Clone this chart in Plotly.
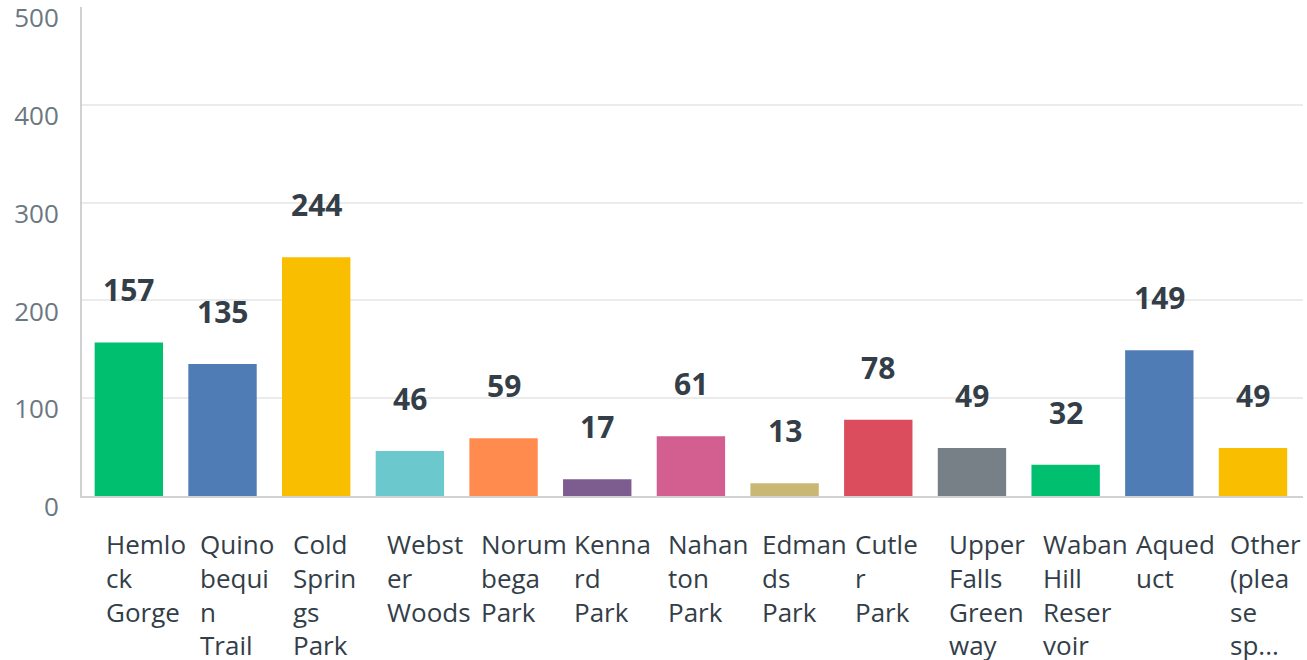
import plotly.graph_objects as go

categories = ["Hemlock Gorge", "Quinobequin Trail", "Cold Springs Park", "Webster Woods",
              "Norumbega Park", "Kennard Park", "Nahanton Park", "Edmands Park",
              "Cutler Park", "Upper Falls Greenway", "Waban Hill Reservoir", "Aqueduct",
              "Other (please specify)"]
wrapped_labels = ["Hemlo<br>ck<br>Gorge", "Quino<br>bequi<br>n<br>Trail", "Cold<br>Sprin<br>gs<br>Park",
                  "Webst<br>er<br>Woods", "Norum<br>bega<br>Park", "Kenna<br>rd<br>Park",
                  "Nahan<br>ton<br>Park", "Edman<br>ds<br>Park", "Cutle<br>r<br>Park",
                  "Upper<br>Falls<br>Green<br>way", "Waban<br>Hill<br>Reser<br>voir",
                  "Aqued<br>uct", "Other<br>(plea<br>se<br>sp..."]
values = [157, 135, 244, 46, 59, 17, 61, 13, 78, 49, 32, 149, 49]
colors = ["#00BF6F", "#507CB6", "#F9BE00", "#6BC8CD", "#FF8B4F", "#7D5C8F", "#D25F90",
          "#C9B873", "#DB4D5C", "#768086", "#00BF6F", "#507CB6", "#F9BE00"]
y_ticks = [0, 100, 200, 300, 400, 500]

FONT = "Open Sans"

fig = go.Figure()
fig.add_trace(go.Bar(x=categories, y=values, marker=dict(color=colors, line=dict(width=0)),
                     hoverinfo="x+y"))

annotations = []
for c, v in zip(categories, values):
    annotations.append(dict(x=c, y=v, xref="x", yref="y", text=str(v), showarrow=False,
                            yanchor="bottom", yshift=30,
                            font=dict(family=FONT, size=30, color="#333e48", weight="bold")))
for c, lab in zip(categories, wrapped_labels):
    annotations.append(dict(x=c, y=0, xref="x", yref="y", text=lab, showarrow=False,
                            xanchor="left", yanchor="top", align="left", xshift=-25, yshift=-28,
                            font=dict(family=FONT, size=26, color="#333e48")))

fig.update_layout(
    width=1307, height=660,
    margin=dict(l=82, r=4, t=7, b=164, autoexpand=False),
    paper_bgcolor="white", plot_bgcolor="white",
    showlegend=False,
    bargap=0.27,
    annotations=annotations,
    xaxis=dict(showticklabels=False, showline=True, linecolor="#d0d2d3", linewidth=2,
               showgrid=False, zeroline=False, ticks="", automargin=False),
    yaxis=dict(range=[0, 500], tickvals=y_ticks, showline=True, linecolor="#d0d2d3",
               linewidth=2, showgrid=True, gridcolor="#ebebeb", gridwidth=2, zeroline=False,
               ticks="", ticklabelshift=11, ticklabelstandoff=16, automargin=False,
               ticklabeloverflow="allow",
               tickfont=dict(family=FONT, size=26, color="#6b787f")),
)

fig.write_html("out.html", config={"displayModeBar": False},
               post_script="document.body.style.margin='0';document.body.style.overflow='hidden';")
